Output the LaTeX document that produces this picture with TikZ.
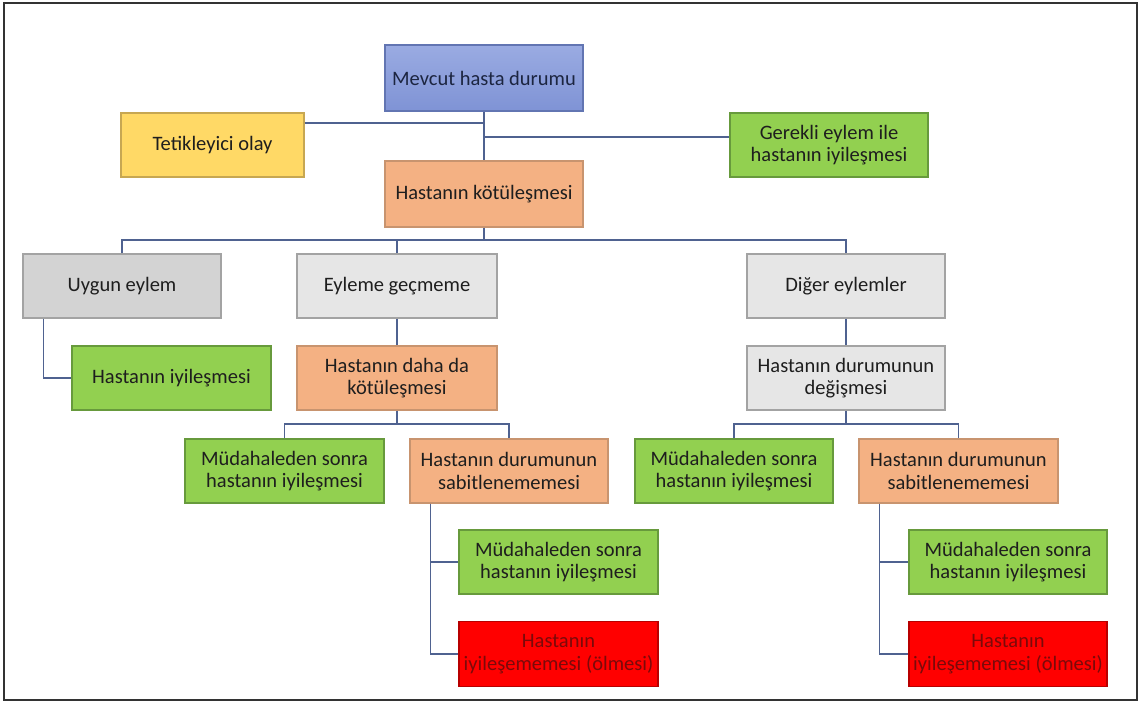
\documentclass[tikz,border=0pt]{standalone}
\usepackage{fontspec}
\setmainfont{Carlito}
\definecolor{linkcol}{HTML}{4F6290}
\definecolor{txt}{HTML}{1E1E1E}
\definecolor{navytext}{HTML}{1C2540}
\definecolor{bluefillA}{HTML}{9AABE2}
\definecolor{bluefillB}{HTML}{7F93D5}
\definecolor{blueedge}{HTML}{6275B2}
\definecolor{yellowfill}{HTML}{FFD966}
\definecolor{yellowedge}{HTML}{C7A752}
\definecolor{greenfill}{HTML}{92D050}
\definecolor{greenedge}{HTML}{679A3C}
\definecolor{orangefill}{HTML}{F4B183}
\definecolor{orangeedge}{HTML}{C8946F}
\definecolor{greyfill}{HTML}{D3D3D3}
\definecolor{lightgreyfill}{HTML}{E6E6E6}
\definecolor{greyedge}{HTML}{A3A3A3}
\definecolor{redfill}{HTML}{FF0000}
\definecolor{rededge}{HTML}{B80000}
\definecolor{redtext}{HTML}{7A0A0A}
\tikzset{
  box/.style={draw, line width=1.1pt, rectangle, align=center, text=txt,
    font=\fontsize{20.5}{22.5}\selectfont, minimum width=198pt, minimum height=64pt,
    inner sep=2pt},
  bluebox/.style={box, draw=blueedge, top color=bluefillA, bottom color=bluefillB, text=navytext},
  yellowbox/.style={box, draw=yellowedge, fill=yellowfill},
  greenbox/.style={box, draw=greenedge, fill=greenfill},
  orangebox/.style={box, draw=orangeedge, fill=orangefill},
  greybox/.style={box, draw=greyedge, fill=greyfill},
  lightbox/.style={box, draw=greyedge, fill=lightgreyfill},
  redbox/.style={box, draw=rededge, fill=redfill, text=redtext},
  link/.style={draw=linkcol, line width=1.3pt}
}
\begin{document}
\begin{tikzpicture}[x=1pt, y=-1pt]
\useasboundingbox (0,0) rectangle (1141,702);
\draw[line width=1.2pt, draw=black!80] (4,3) rectangle (1137,700);

% top level
\node[bluebox, minimum height=66pt] (mev) at (484,78) {Mevcut hasta durumu};
\node[yellowbox, minimum width=183pt] (tet) at (212.5,145) {Tetikleyici olay};
\node[greenbox] (ger) at (829,145) {Gerekli eylem ile\\hastanın iyileşmesi};
\node[orangebox, minimum height=66pt] (kot) at (484,194) {Hastanın kötüleşmesi};

% second level
\node[greybox] (uyg) at (122,286) {Uygun eylem};
\node[lightbox, minimum width=200pt] (eyl) at (397,286) {Eyleme geçmeme};
\node[lightbox] (dig) at (846,286) {Diğer eylemler};

% third level
\node[greenbox, minimum width=199pt] (iyi) at (171.5,378) {Hastanın iyileşmesi};
\node[orangebox, minimum width=200pt] (dah) at (397,378) {Hastanın daha da\\kötüleşmesi};
\node[lightbox] (deg) at (846,378) {Hastanın durumunun\\değişmesi};

% fourth level
\node[greenbox, minimum width=199pt] (mudL) at (284.5,471) {Müdahaleden sonra\\hastanın iyileşmesi};
\node[orangebox] (sabL) at (509,471) {Hastanın durumunun\\sabitlenememesi};
\node[greenbox] (mudR) at (734,471) {Müdahaleden sonra\\hastanın iyileşmesi};
\node[orangebox, minimum width=199pt] (sabR) at (958.5,471) {Hastanın durumunun\\sabitlenememesi};

% fifth level
\node[greenbox, minimum width=199pt] (mudLL) at (558.5,562) {Müdahaleden sonra\\hastanın iyileşmesi};
\node[redbox, minimum width=199pt, minimum height=65pt] (redL) at (558.5,654) {Hastanın\\iyileşememesi (ölmesi)};
\node[greenbox] (mudRR) at (1008,562) {Müdahaleden sonra\\hastanın iyileşmesi};
\node[redbox, minimum height=65pt] (redR) at (1008,654) {Hastanın\\iyileşememesi (ölmesi)};

% bus levels
\coordinate (trig) at (0,123);
\coordinate (good) at (0,137);
\coordinate (busA) at (0,240);
\coordinate (busL) at (0,424);
\coordinate (busR) at (0,424);

% connectors
\draw[link] (mev) -- (kot);
\draw[link] (tet.east |- trig) -- (mev.south |- trig);
\draw[link] (mev.south |- good) -- (ger.west |- good);

\draw[link] (kot.south) -- (kot.south |- busA);
\draw[link] (uyg.north) -- (uyg.north |- busA) -- (dig.north |- busA) -- (dig.north);
\draw[link] (eyl.north) -- (eyl.north |- busA);

\draw[link] ([xshift=21pt]uyg.south west) |- (iyi.west);
\draw[link] (eyl) -- (dah);
\draw[link] (dig) -- (deg);

\draw[link] (dah.south) -- (dah.south |- busL);
\draw[link] (mudL.north) -- (mudL.north |- busL) -- (sabL.north |- busL) -- (sabL.north);
\draw[link] (deg.south) -- (deg.south |- busR);
\draw[link] (mudR.north) -- (mudR.north |- busR) -- (sabR.north |- busR) -- (sabR.north);

\draw[link] ([xshift=21pt]sabL.south west) |- (redL.west);
\draw[link] ([xshift=21pt]sabL.south west) |- (mudLL.west);
\draw[link] ([xshift=21pt]sabR.south west) |- (redR.west);
\draw[link] ([xshift=21pt]sabR.south west) |- (mudRR.west);
\end{tikzpicture}
\end{document}
